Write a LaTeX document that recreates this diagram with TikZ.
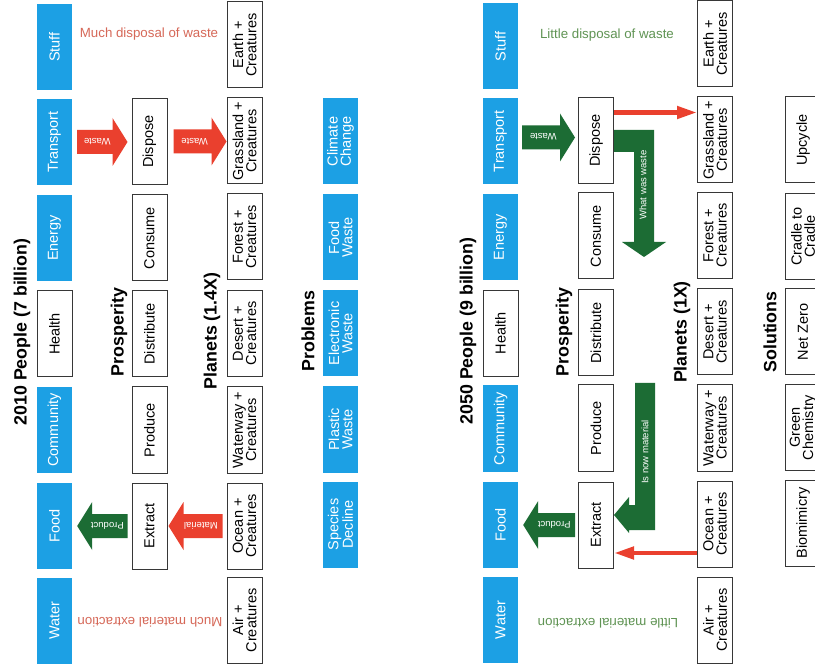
\documentclass[tikz,border=0pt]{standalone}
\usepackage{fontspec}
\setmainfont{Liberation Sans}
\usetikzlibrary{calc,arrows.meta}
\definecolor{cblue}{RGB}{28,160,228}
\definecolor{cred}{RGB}{234,64,46}
\definecolor{cgreen}{RGB}{28,108,52}
\definecolor{tred}{RGB}{214,104,88}
\definecolor{tgreen}{RGB}{96,148,84}
\definecolor{bord}{RGB}{55,55,55}
\newcommand\blkarrow[3]{\fill[#1] let \p1=(#2), \p2=(#3), \p3=($(#3)!15pt!(#2)$) in
  (\x1,\y1+12pt) -- (\x3,\y1+12pt) -- (\x3,\y1+24pt) -- (\x2,\y1) -- (\x3,\y1-24pt) -- (\x3,\y1-12pt) -- (\x1,\y1-12pt) -- cycle;}
\tikzset{
  boxbase/.style={rotate=90, minimum width=86pt, minimum height=35pt, inner sep=0pt, align=center,
    font=\fontsize{14.5}{13.3}\selectfont},
  wbox/.style={boxbase, draw=bord, line width=1pt, fill=white},
  bbox/.style={boxbase, fill=cblue, text=white},
  ttl/.style={rotate=90, font=\fontsize{17.8}{20}\selectfont\bfseries},
  alab/.style={rotate=180, text=white, font=\fontsize{9.5}{10}\selectfont, inner sep=0pt},
  vlab/.style={rotate=90, text=white, font=\fontsize{9.5}{10}\selectfont, inner sep=0pt},
  note/.style={font=\fontsize{13.3}{15}\selectfont, inner sep=0pt},
  thinred/.style={draw=cred, line width=4.5pt, -{Triangle[length=20pt,width=12pt]}}
}
\begin{document}
\begin{tikzpicture}[x=1pt,y=-1pt]
\useasboundingbox (0,0) rectangle (815,671);
\fill[white] (0,0) rectangle (815,671);
\clip (0,0) rectangle (815,671);

% ---------------- left panel ----------------
\node[ttl] (Lt1) at (22,332) {2010 People (7 billion)};
\node[bbox] (Lst) at (54.5,47) {Stuff};
\node[bbox] (Ltr) at (54.5,142) {Transport};
\node[bbox] (Len) at (54.5,238) {Energy};
\node[wbox] (Lhe) at (54.5,334) {Health};
\node[bbox] (Lco) at (54.5,430) {Community};
\node[bbox] (Lfo) at (54.5,525.5) {Food};
\node[bbox] (Lwa) at (54.5,620.5) {Water};

\node[ttl] (Lt2) at (119,332) {Prosperity};
\node[wbox] (Ldis) at (149.5,141.5) {Dispose};
\node[wbox] (Lcon) at (149.5,238) {Consume};
\node[wbox] (Ldst) at (149.5,334) {Distribute};
\node[wbox] (Lpro) at (149.5,430) {Produce};
\node[wbox] (Lext) at (149.5,526) {Extract};

\node[ttl] (Lt3) at (212,331) {Planets (1.4X)};
\node[wbox] (Lea) at (244.5,45) {Earth +\\Creatures};
\node[wbox] (Lgr) at (244.5,141) {Grassland +\\Creatures};
\node[wbox] (Lfr) at (244.5,237) {Forest +\\Creatures};
\node[wbox] (Lde) at (244.5,333.5) {Desert +\\Creatures};
\node[wbox] (Lww) at (244.5,430) {Waterway +\\Creatures};
\node[wbox] (Loc) at (244.5,526) {Ocean +\\Creatures};
\node[wbox] (Lai) at (244.5,620.5) {Air +\\Creatures};

\node[ttl] (Lt4) at (308,331) {Problems};
\node[bbox] (Lcc) at (340.5,141.5) {Climate\\Change};
\node[bbox] (Lfw) at (340.5,237.5) {Food\\Waste};
\node[bbox] (Lew) at (340.5,333.5) {Electronic\\Waste};
\node[bbox] (Lpw) at (340.5,429.5) {Plastic\\Waste};
\node[bbox] (Lsd) at (340.5,524.5) {Species\\Decline};

\node[note, text=tred] (Ln1) at (149,34) {Much disposal of waste};
\node[note, text=tred, rotate=180] (Ln2) at (150,622) {Much material extraction};

\coordinate (La1) at ($(Ltr.south)+(5,0)$);
\coordinate (Lb1) at ($(Ldis.north)+(-4,0)$);
\blkarrow{cred}{La1}{Lb1}
\node[alab] at ($(La1)!0.4!(Lb1)$) {Waste};
\coordinate (La2) at ($(Ldis.south)+(6,0)$);
\coordinate (Lb2) at (Lgr.north);
\blkarrow{cred}{La2}{Lb2}
\node[alab] at ($(La2)!0.4!(Lb2)$) {Waste};
\coordinate (La3) at ($(Loc.north)+(-4,0)$);
\coordinate (Lb3) at ($(Lext.south)+(1,0)$);
\blkarrow{cred}{La3}{Lb3}
\node[alab] at ($(La3)!0.4!(Lb3)$) {Material};
\coordinate (La4) at ($(Lext.north)+(-4,0)$);
\coordinate (Lb4) at ($(Lfo.south)+(5,0)$);
\blkarrow{cgreen}{La4}{Lb4}
\node[alab] at ($(La4)!0.4!(Lb4)$) {Product};

% ---------------- right panel ----------------
\node[ttl] (Rt1) at (468,331) {2050 People (9 billion)};
\node[bbox] (Rst) at (500.5,46.5) {Stuff};
\node[bbox] (Rtr) at (500.5,141.5) {Transport};
\node[bbox] (Ren) at (500.5,237.5) {Energy};
\node[wbox] (Rhe) at (500.5,333.5) {Health};
\node[bbox] (Rco) at (500.5,428.5) {Community};
\node[bbox] (Rfo) at (500.5,524.5) {Food};
\node[bbox] (Rwa) at (500.5,620) {Water};

\node[ttl] (Rt2) at (564,332) {Prosperity};
\node[wbox] (Rdis) at (596,140.5) {Dispose};
\node[wbox] (Rcon) at (596,236) {Consume};
\node[wbox] (Rdst) at (596,333) {Distribute};
\node[wbox] (Rpro) at (596,428) {Produce};
\node[wbox] (Rext) at (596,525) {Extract};

\node[ttl] (Rt3) at (682,332) {Planets (1X)};
\node[wbox] (Rea) at (715,44) {Earth +\\Creatures};
\node[wbox] (Rgr) at (715,140) {Grassland +\\Creatures};
\node[wbox] (Rfr) at (715,235.5) {Forest +\\Creatures};
\node[wbox] (Rde) at (715,332) {Desert +\\Creatures};
\node[wbox] (Rww) at (715,428) {Waterway +\\Creatures};
\node[wbox] (Roc) at (715,524) {Ocean +\\Creatures};
\node[wbox] (Rai) at (715,620) {Air +\\Creatures};

\node[ttl] (Rt4) at (770,332) {Solutions};
\node[wbox] (Rup) at (803,140) {Upcycle};
\node[wbox] (Rcc) at (803,236.5) {Cradle to\\Cradle};
\node[wbox] (Rnz) at (803,332) {Net Zero};
\node[wbox] (Rgc) at (803,427.5) {Green\\Chemistry};
\node[wbox] (Rbm) at (803,523) {Biomimicry};

\node[note, text=tgreen] (Rn1) at (607,35) {Little disposal of waste};
\node[note, text=tgreen, rotate=180] (Rn2) at (608,623) {Little material extraction};

\coordinate (Ra1) at ($(Rtr.south)+(4,-4)$);
\coordinate (Rb1) at ($(Rdis.north)+(-3,-4)$);
\blkarrow{cgreen}{Ra1}{Rb1}
\node[alab] at ($(Ra1)!0.4!(Rb1)$) {Waste};
\coordinate (Ra4) at ($(Rext.north)+(-3,0)$);
\coordinate (Rb4) at ($(Rfo.south)+(5,0)$);
\blkarrow{cgreen}{Ra4}{Rb4}
\node[alab] at ($(Ra4)!0.4!(Rb4)$) {Product};

% thin red arrows
\coordinate (Rr1) at ($(Rdis.south)+(0,-28)$);
\draw[thinred] (Rr1) -- (Rr1 -| Rgr.north);
\coordinate (Rr2) at ($(Roc.north)+(0,29)$);
\draw[thinred] (Rr2) -- (Rr2 -| Rext.south);

% green L-shaped arrows
\fill[cgreen] ($(Rdis.south)+(0,-10.5)$) -- ++(40,0) -- ++(0,112) -- ++(12,0) -- ++(-22,15)
  -- ++(-22,-15) -- ++(12,0) -- ++(0,-90) -- ++(-20,0) -- cycle;
\node[vlab] at (643,185) {What was waste};
\fill[cgreen] ($(Rext.south)+(0,-10)$) -- ++(15,-18) -- ++(0,8) -- ++(6,0) -- ++(0,-122)
  -- ++(20,0) -- ++(0,147) -- ++(-26,0) -- ++(0,3) -- cycle;
\node[vlab] at (645,452) {Is now material};
\end{tikzpicture}
\end{document}
